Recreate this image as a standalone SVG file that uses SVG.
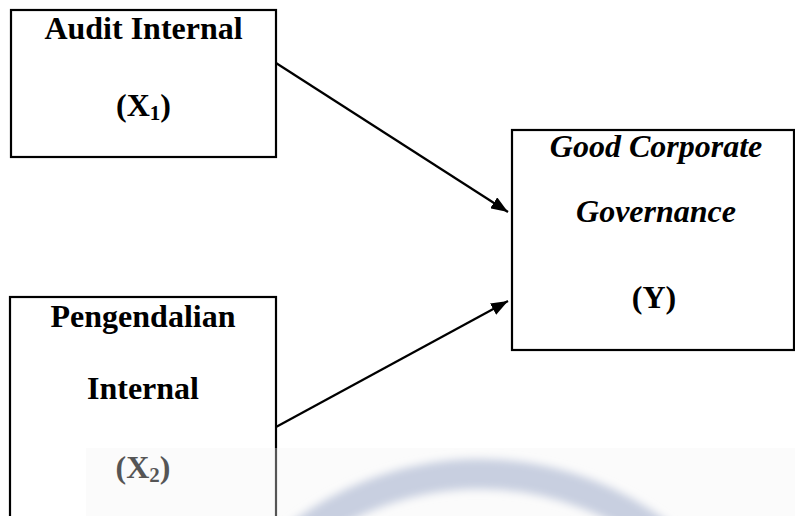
<svg xmlns="http://www.w3.org/2000/svg" width="795" height="516" viewBox="0 0 795 516">
  <defs>
    <style>
      .box { fill: none; stroke: #000; stroke-width: 2.2; }
      .lbl { font-family: "Liberation Serif", "Times New Roman", serif; font-weight: bold; font-size: 32px; fill: #000; text-anchor: middle; }
      .it { font-style: italic; }
      .conn { stroke: #000; stroke-width: 2.2; fill: none; }
    </style>
    <marker id="arrow" viewBox="0 0 17 13" refX="17" refY="6.5" markerWidth="17" markerHeight="13" markerUnits="userSpaceOnUse" orient="auto">
      <path d="M0,0 L17,6.5 L0,13 z" fill="#000"/>
    </marker>
    <filter id="blur" x="-20%" y="-20%" width="140%" height="140%">
      <feGaussianBlur stdDeviation="4"/>
    </filter>
  </defs>
  <rect width="795" height="516" fill="#fff"/>

  <g id="node-x1">
    <rect class="box" x="11" y="10" width="265" height="147"/>
    <text class="lbl" x="143.5" y="39">Audit Internal</text>
    <text class="lbl" x="143.5" y="116">(X<tspan font-size="21" dy="4">1</tspan><tspan dy="-4">)</tspan></text>
  </g>

  <g id="node-x2">
    <rect class="box" x="10" y="297" width="266" height="240"/>
    <text class="lbl" x="143" y="327">Pengendalian</text>
    <text class="lbl" x="143" y="399">Internal</text>
    <text class="lbl" x="143" y="478">(X<tspan font-size="21" dy="4">2</tspan><tspan dy="-4">)</tspan></text>
  </g>

  <g id="node-y">
    <rect class="box" x="512" y="130" width="282" height="220"/>
    <text class="lbl it" x="656" y="157">Good Corporate</text>
    <text class="lbl it" x="656" y="222">Governance</text>
    <text class="lbl" x="654" y="308">(Y)</text>
  </g>

  <g id="connectors">
    <line class="conn" x1="276" y1="63" x2="508" y2="212" marker-end="url(#arrow)"/>
    <line class="conn" x1="276" y1="427" x2="508" y2="301" marker-end="url(#arrow)"/>
  </g>

  <g id="watermark">
    <rect x="86" y="448" width="709" height="68" fill="#f4f4f4" opacity="0.35"/>
    <circle cx="480" cy="770" r="296" fill="none" stroke="#c8cfe0" stroke-width="30" filter="url(#blur)"/>
  </g>
</svg>
